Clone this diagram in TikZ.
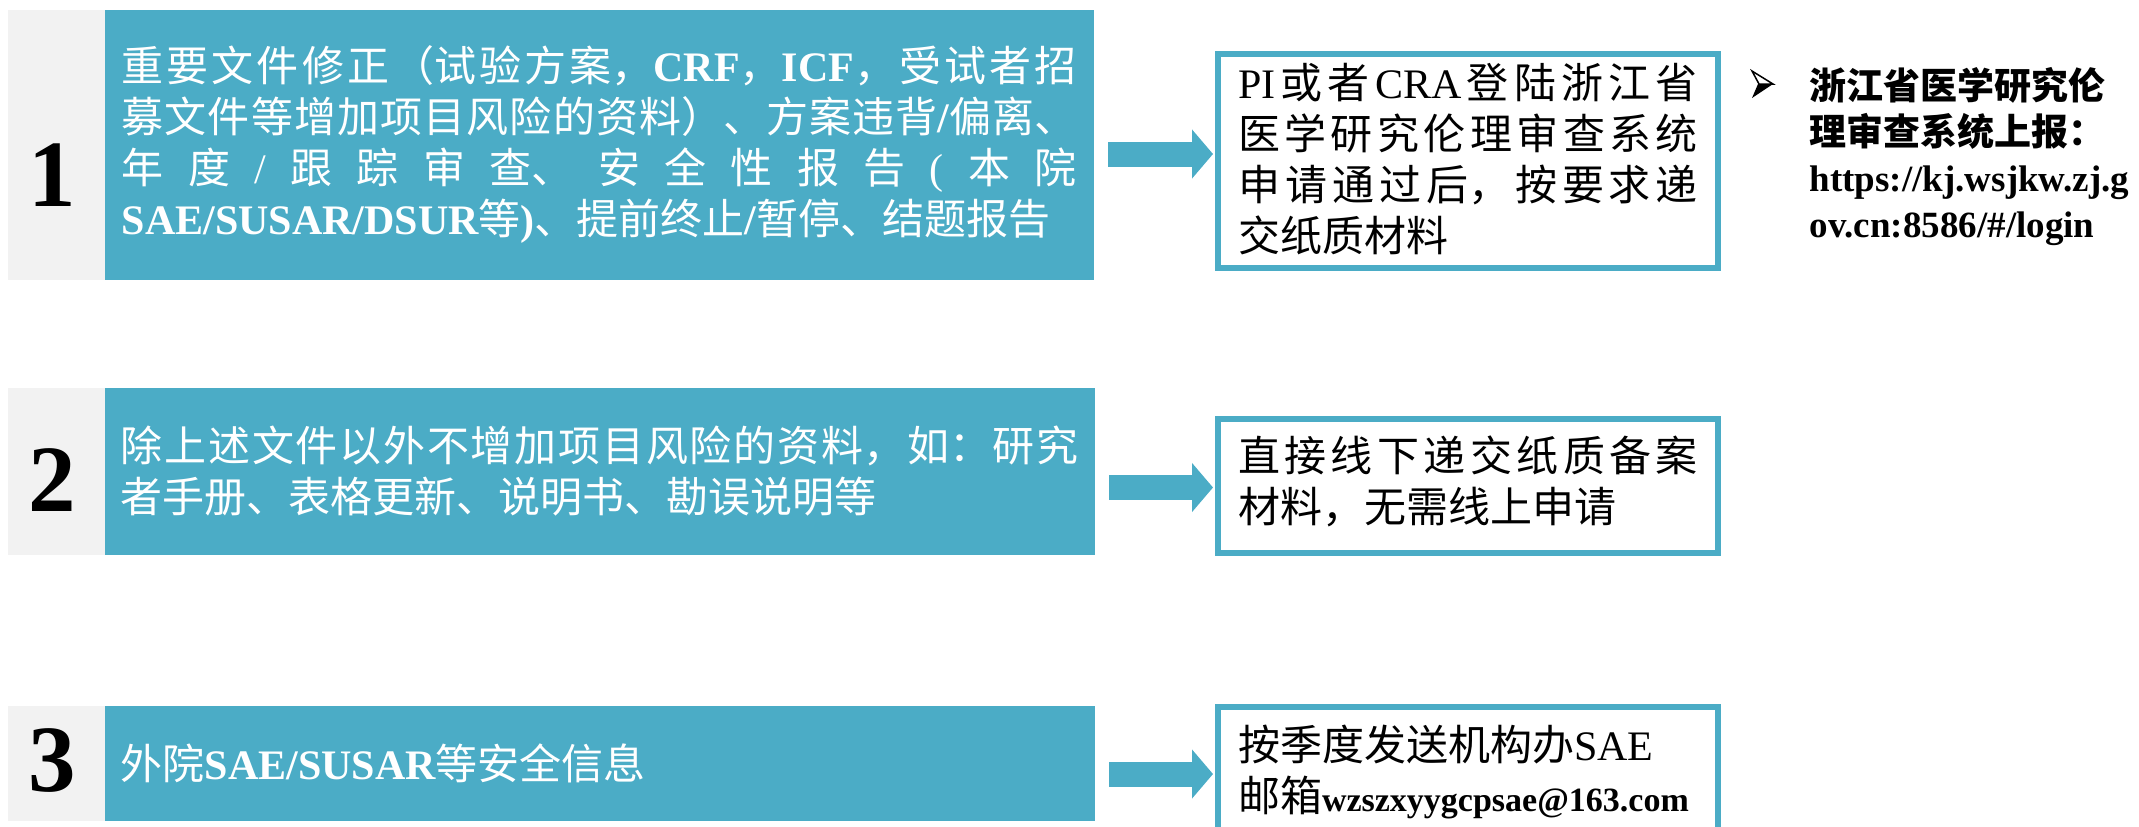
\documentclass[tikz,border=0pt]{standalone}
\usepackage{fontspec}
\setmainfont{Liberation Serif}
\newfontfamily\cjk{Noto Sans CJK SC}
\usetikzlibrary{arrows.meta}

\XeTeXlinebreaklocale "zh"\relax
\XeTeXlinebreakskip=0pt plus 4pt
\tolerance=10000
\hbadness=10000
\adjdemerits=0
\linepenalty=1000

\newlength\px
\setlength\px{0.01cm}

\definecolor{boxteal}{RGB}{75,172,198}
\definecolor{numgray}{RGB}{242,242,242}

% Latin runs in Times, without the CJK break glue
\newcommand\lb[1]{{\XeTeXlinebreaklocale ""\relax\rmfamily\bfseries #1\XeTeXlinebreaklocale "zh"\relax}}
\newcommand\lr[1]{{\XeTeXlinebreaklocale ""\relax\rmfamily #1\XeTeXlinebreaklocale "zh"\relax}}
\newcommand\jgap{\hskip 0pt plus 4pt\relax}

\begin{document}
\begin{tikzpicture}[x=0.01cm,y=-0.01cm,
    numbox/.style={anchor=north west, fill=numgray, inner sep=0pt, minimum width=97\px},
    numtxt/.style={font=\rmfamily\bfseries\fontsize{95\px}{95\px}\selectfont, inner sep=0pt},
    itembox/.style={anchor=north west, fill=boxteal, text=white, inner sep=0pt,
        align=justify, font=\cjk\fontsize{42\px}{51\px}\selectfont},
    infobox/.style={anchor=north west, draw=boxteal, line width=6\px, fill=white,
        inner xsep=20\px, font=\cjk\fontsize{42\px}{51\px}\selectfont},
    flow/.style={boxteal, line width=0.25cm, shorten >=0.02cm,
        -{Triangle[length=0.21cm,width=0.48cm]}}]
  \useasboundingbox (0,0) rectangle (2139,826);
  \clip (0,0) rectangle (2139,826);

  % number column
  \foreach \n/\y/\h/\dy in {1/9/270/175,2/387/167/480,3/705/115/760} {
      \node[numbox, minimum height=\h\px] (num\n) at (7,\y) {};
      \node[numtxt] (digit\n) at (52,\dy) {\n};
    }

  \node[itembox, text width=955\px, minimum width=989\px, minimum height=270\px] (item1) at (104,9)
    {重要文件修正（试验方案，\lb{CRF}，\lb{ICF}，受试者招\linebreak
      募文件等增加项目风险的资料）、方案违背\lb{/}偏离、\linebreak
      年度\jgap\lr{/}\jgap 跟踪审查、安全性报告\jgap\lr{(}\jgap 本院\linebreak
      \lb{SAE/SUSAR/DSUR}等\lb{)}、提前终止\lb{/}暂停、结题报告};
  \node[itembox, text width=958\px, minimum width=990\px, minimum height=167\px] (item2) at (104,387)
    {除上述文件以外不增加项目风险的资料，如：研究\linebreak
      者手册、表格更新、说明书、勘误说明等};
  \node[itembox, text width=958\px, minimum width=990\px, minimum height=115\px] (item3) at (104,705)
    {外院\lb{SAE/SUSAR}等安全信息};

  \node[infobox, inner ysep=9\px] (info1) at (1215,51)
    {\parbox[c][196\px][t]{460\px}{\lr{PI}\jgap 或者\jgap\lr{CRA}\jgap 登陆浙江省\linebreak
      医学研究伦理审查系统\linebreak
      申请通过后，按要求递\linebreak
      交纸质材料}};
  \node[infobox, inner ysep=17\px] (info2) at (1215,416)
    {\parbox[c][100\px][t]{460\px}{直接线下递交纸质备案\linebreak
      材料，无需线上申请}};
  \node[infobox, inner ysep=18\px] (info3) at (1215,704)
    {\parbox[c][110\px][t]{460\px}{按季度发送机构办\lr{SAE}\\
      邮箱{\fontsize{34\px}{51\px}\selectfont\lb{wzszxyygcpsae@163.com}}}};

  \draw[flow] ([xshift=0.14cm,yshift=0.07cm]item1.east |- info1.west) -- ([yshift=0.07cm]info1.west);
  \draw[flow] ([xshift=0.14cm,yshift=-0.015cm]item2.east |- info2.west) -- ([yshift=-0.015cm]info2.west);
  \draw[flow] ([xshift=0.14cm,yshift=0.06cm]item3.east |- info3.west) -- ([yshift=0.06cm]info3.west);

  % bullet mark
  \draw[line width=0.015cm, line join=miter] (1752,71) -- (1773,84) -- (1759,84) -- cycle;
  \fill (1758,84) -- (1773,84) -- (1752,98) -- cycle;
  \node[anchor=north west, inner sep=0pt, align=left,
      font=\cjk\bfseries\fontsize{37\px}{46\px}\selectfont] (login) at (1809,67)
    {浙江省医学研究伦\\理审查系统上报：\\\lb{https://kj.wsjkw.zj.g}\\\lb{ov.cn:8586/\#/login}};
\end{tikzpicture}
\end{document}
